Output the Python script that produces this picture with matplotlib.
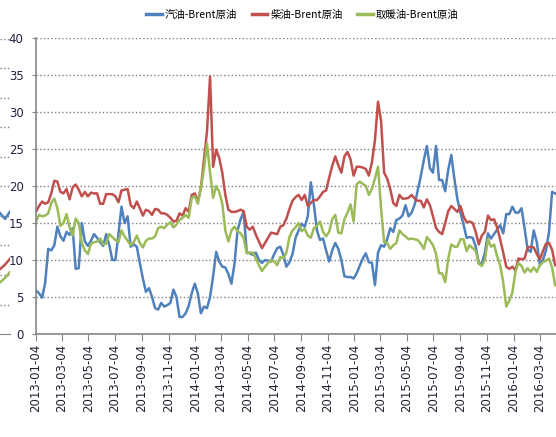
import matplotlib
matplotlib.use('Agg')
import matplotlib.pyplot as plt
import pandas as pd

plt.rcParams['font.family'] = ['Noto Sans CJK SC', 'DejaVu Sans']

# 周度价差数据 (美元/桶), 从 2013-01-04 起每周一个点
gasoline = [5.9, 5.5, 4.9, 6.9, 11.5, 11.3, 12.0, 14.5, 13.2, 12.6,
            13.8, 13.4, 14.3, 8.8, 8.9, 15.0, 12.5, 11.9, 12.6, 13.5,
            13.0, 12.4, 11.9, 13.5, 12.0, 10.0, 10.0, 13.5, 17.2, 15.0,
            15.9, 11.8, 12.1, 11.8, 9.6, 7.5, 5.7, 6.2, 5.0, 3.5,
            3.3, 4.2, 3.7, 3.9, 4.2, 6.0, 5.0, 2.3, 2.3, 2.8,
            3.8, 5.5, 6.8, 5.5, 2.8, 3.7, 3.5, 5.0, 7.8, 11.1,
            9.8, 9.1, 9.0, 8.1, 6.8, 9.5, 14.0, 15.5, 16.5, 11.1,
            10.9, 10.7, 11.0, 10.0, 9.6, 10.0, 9.9, 9.8, 10.8, 11.6,
            11.8, 10.7, 9.1, 9.7, 10.8, 13.0, 14.0, 14.9, 14.5, 15.9,
            20.5, 17.5, 14.0, 12.7, 12.9, 11.3, 9.8, 11.3, 12.3, 11.5,
            10.0, 7.8, 7.7, 7.7, 7.5, 8.2, 9.2, 10.2, 10.9, 9.7,
            9.6, 6.6, 11.0, 12.0, 11.8, 12.8, 14.3, 13.8, 15.4, 15.6,
            16.0, 17.4, 15.9, 16.4, 17.5, 19.4, 21.3, 23.5, 25.4, 22.4,
            21.8, 25.4, 20.8, 20.8, 19.3, 22.2, 24.2, 21.0, 18.2, 16.4,
            14.8, 13.0, 13.1, 13.0, 11.8, 9.6, 9.5, 11.0, 13.6, 12.9,
            13.5, 14.1, 14.7, 13.6, 16.2, 16.2, 17.2, 16.4, 16.4, 17.0,
            14.3, 11.4, 11.1, 14.0, 12.4, 9.3, 10.0, 11.3, 13.8, 19.2,
            19.0]
diesel = [16.5, 17.3, 17.9, 17.6, 17.8, 19.0, 20.7, 20.6, 19.2, 19.0,
          19.6, 18.2, 19.8, 20.2, 19.5, 18.6, 19.2, 18.6, 19.1, 19.0,
          19.0, 17.6, 17.6, 18.9, 18.9, 18.9, 18.6, 17.8, 19.4, 19.5,
          19.6, 17.4, 17.0, 17.9, 17.0, 16.0, 16.8, 16.6, 16.1, 16.9,
          16.8, 16.3, 16.3, 16.1, 15.7, 15.2, 15.3, 16.3, 16.0, 17.0,
          16.5, 18.8, 19.0, 17.9, 19.7, 23.5, 27.4, 34.8, 22.6, 24.9,
          23.8, 21.8, 18.8, 16.8, 16.5, 16.5, 16.6, 16.8, 16.6, 14.5,
          14.1, 14.5, 13.4, 12.5, 11.6, 12.3, 13.0, 13.7, 13.6, 13.5,
          14.5, 14.7, 15.6, 16.9, 18.0, 18.5, 18.8, 18.1, 18.8, 17.3,
          17.7, 18.1, 18.1, 18.6, 19.2, 19.4, 21.1, 22.7, 24.0, 22.8,
          21.8, 24.0, 24.6, 23.6, 21.4, 22.6, 22.6, 22.5, 22.3, 21.4,
          23.2, 26.2, 31.4, 28.8, 21.8, 21.0, 19.6, 17.7, 17.3, 18.8,
          18.3, 18.3, 18.4, 18.8, 18.3, 18.0, 18.0, 17.1, 18.2, 17.4,
          15.9, 14.3, 13.8, 13.5, 15.0, 16.6, 17.3, 16.9, 16.5, 17.3,
          15.9, 15.1, 15.2, 15.0, 13.8, 12.1, 13.3, 13.8, 16.0, 15.4,
          15.5, 14.4, 12.8, 11.0, 9.1, 8.8, 9.1, 8.6, 10.2, 10.1,
          10.2, 11.7, 11.8, 11.7, 10.8, 10.1, 11.2, 12.2, 12.3, 11.4,
          9.3]
heating_oil = [15.2, 16.1, 15.9, 16.0, 16.3, 17.7, 18.3, 17.0, 14.6, 15.0,
               16.2, 14.4, 13.3, 15.6, 15.0, 12.3, 11.3, 10.8, 12.2, 12.4,
               12.5, 12.9, 12.1, 12.2, 13.5, 13.1, 12.7, 12.4, 14.0, 13.2,
               12.6, 12.0, 12.4, 13.3, 12.3, 11.7, 12.6, 12.9, 12.9, 13.2,
               14.3, 14.5, 14.3, 14.8, 15.1, 14.4, 14.8, 15.4, 15.7, 16.1,
               15.7, 18.4, 18.6, 17.6, 19.8, 22.3, 25.8, 21.8, 18.4, 20.0,
               19.2, 17.6, 14.0, 12.5, 14.0, 14.5, 13.9, 13.6, 13.0, 10.9,
               11.0, 11.0, 10.2, 9.3, 8.5, 9.1, 9.6, 10.0, 9.8, 9.3,
               10.4, 10.2, 11.0, 13.1, 14.0, 14.4, 15.0, 13.9, 14.2, 13.3,
               13.0, 14.3, 14.6, 15.2, 13.8, 13.2, 13.8, 15.5, 16.1, 13.7,
               13.6, 15.5, 16.4, 17.5, 15.2, 20.2, 20.6, 20.3, 20.0, 18.8,
               19.6, 21.0, 22.6, 17.0, 12.4, 12.3, 11.5, 12.0, 12.3, 14.0,
               13.5, 13.2, 12.8, 12.9, 12.8, 12.7, 12.2, 11.5, 13.1, 12.6,
               12.0, 10.8, 8.2, 8.2, 7.0, 10.2, 12.1, 11.8, 11.8, 12.8,
               12.8, 11.2, 12.0, 11.6, 11.2, 9.5, 9.2, 10.0, 12.8, 11.8,
               12.1, 10.5, 9.3, 7.0, 3.7, 4.5, 5.6, 8.4, 9.6, 9.2,
               8.3, 8.9, 8.4, 9.0, 8.4, 9.3, 9.7, 9.9, 10.2, 9.0,
               6.6]

tick_labels = ['2013-01-04', '2013-03-04', '2013-05-04', '2013-07-04', '2013-09-04',
               '2013-11-04', '2014-01-04', '2014-03-04', '2014-05-04', '2014-07-04',
               '2014-09-04', '2014-11-04', '2015-01-04', '2015-03-04', '2015-05-04',
               '2015-07-04', '2015-09-04', '2015-11-04', '2016-01-04', '2016-03-04']
series_names = ['汽油-Brent原油', '柴油-Brent原油', '取暖油-Brent原油']
colors = ['#4F81BD', '#C0504D', '#9BBB59']

# 截图左边缘露出的另一张图的残片
strip_gasoline = [4.1, 3.9, 4.15]
strip_diesel = [2.2, 2.35, 2.55]
strip_heating = [1.75, 1.9, 2.1]

dates = pd.date_range('2013-01-04', periods=len(gasoline), freq='7D')

fig = plt.figure(figsize=(5.56, 4.37), dpi=100)

# 左侧残片 (先画, 放在主图下面)
ax2 = fig.add_axes([0, 103 / 437, 10 / 556, 295 / 437])
ax2.plot(range(3), strip_gasoline, color=colors[0], lw=1.8)
ax2.plot(range(3), strip_diesel, color=colors[1], lw=1.8)
ax2.plot(range(3), strip_heating, color=colors[2], lw=1.8)
ax2.set_xlim(0, 2)
ax2.set_ylim(0, 10)
ax2.set_yticks(range(1, 11))
ax2.grid(axis='y', linestyle=':', color='#7f7f7f', lw=1)
ax2.tick_params(left=False, bottom=False, labelleft=False, labelbottom=False)
for s in ['top', 'right', 'left']:
    ax2.spines[s].set_visible(False)
ax2.spines['bottom'].set_color('#868686')
ax2.patch.set_alpha(0)

ax = fig.add_axes([36 / 556, 103 / 437, 520 / 556, 296 / 437])
ax.patch.set_alpha(0)

for vals, name, c in zip([gasoline, diesel, heating_oil], series_names, colors):
    ax.plot(dates, vals, color=c, lw=1.8, label=name, solid_joinstyle='round')

start = pd.Timestamp('2013-01-04')
ax.set_xlim(start, start + pd.Timedelta(days=1192))
ax.set_ylim(0, 40)
ax.set_yticks(range(0, 41, 5))
ax.set_xticks(pd.to_datetime(tick_labels))
ax.set_xticklabels(tick_labels, rotation=90, fontsize=8.5, family='DejaVu Sans',
                   color='#222233')
for lab in ax.get_yticklabels():
    lab.set_family('DejaVu Sans')
    lab.set_fontsize(8.5)
    lab.set_color('#222244')
ax.tick_params(axis='x', length=5, color='#868686', pad=2)
ax.tick_params(axis='y', length=3, color='#868686', pad=6)
ax.grid(axis='y', linestyle=':', color='#7f7f7f', lw=1)
ax.set_axisbelow(True)
for s in ['top', 'right']:
    ax.spines[s].set_visible(False)
for s in ['left', 'bottom']:
    ax.spines[s].set_color('#868686')
    ax.spines[s].set_linewidth(1.2)

fig.legend(loc='center left', bbox_to_anchor=(146 / 556, 1 - 15 / 437), ncol=3,
           frameon=False, fontsize=7.5, handlelength=1.5, handletextpad=0.3,
           columnspacing=1.4, borderpad=0, borderaxespad=0)
for line in fig.legends[0].get_lines():
    line.set_linewidth(2.5)

fig.savefig('out.png', dpi=100)
